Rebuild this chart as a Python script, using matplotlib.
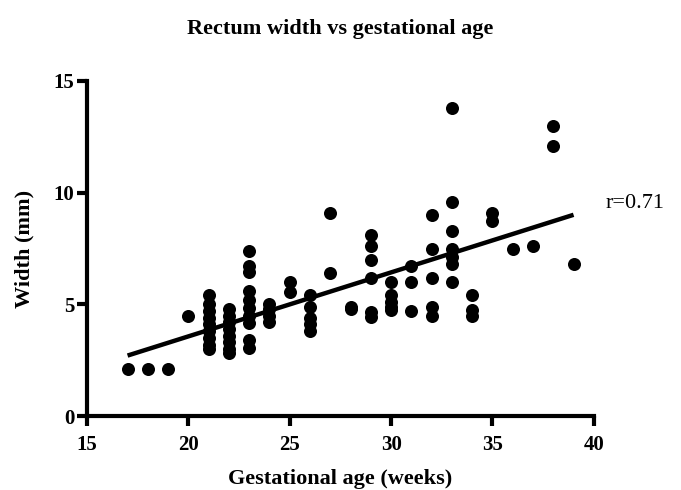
import numpy as np
import matplotlib
matplotlib.use("Agg")
import matplotlib.pyplot as plt

# gestational age (weeks) and rectum width (mm)
ages_17_20 = [17, 18, 19, 20]
width_17_20 = [2.1, 2.1, 2.1, 4.5]

width_21 = [5.4, 5.0, 4.7, 4.4, 4.1, 3.8, 3.5, 3.2, 3.0]
width_22 = [4.8, 4.5, 4.2, 3.9, 3.6, 3.3, 3.0, 2.8]
width_23 = [7.4, 6.7, 6.45, 5.6, 5.2, 4.85, 4.5, 4.15, 3.4, 3.05]
width_24 = [5.0, 4.8, 4.5, 4.2]
width_25 = [6.0, 5.55]
width_26 = [5.4, 4.9, 4.4, 4.1, 3.8]
width_27 = [9.1, 6.4]
width_28 = [4.9, 4.8]
width_29 = [8.1, 7.6, 7.0, 6.2, 4.65, 4.45]
width_30 = [6.0, 5.4, 5.1, 4.9, 4.75]
width_31 = [6.7, 6.0, 4.7]
width_32 = [9.0, 7.5, 6.2, 4.9, 4.5]
width_33 = [13.8, 9.6, 8.3, 7.5, 7.1, 6.8, 6.0]
width_34 = [5.4, 4.75, 4.5]
width_35_39 = {35: [9.1, 8.75], 36: [7.5], 37: [7.6], 38: [13.0, 12.1], 39: [6.8]}

x_ticks = [15, 20, 25, 30, 35, 40]
y_ticks = [0, 5, 10, 15]
r_label = "r=0.71"

columns = {21: width_21, 22: width_22, 23: width_23, 24: width_24, 25: width_25,
           26: width_26, 27: width_27, 28: width_28, 29: width_29, 30: width_30,
           31: width_31, 32: width_32, 33: width_33, 34: width_34}
columns.update(width_35_39)

ages = list(ages_17_20)
widths = list(width_17_20)
for age, vals in columns.items():
    ages += [age] * len(vals)
    widths += vals
ages = np.array(ages, dtype=float)
widths = np.array(widths)

plt.rcParams["font.family"] = ["Liberation Serif", "DejaVu Serif"]

fig = plt.figure(figsize=(6.81, 4.90), dpi=100)
ax = fig.add_axes([0.1278, 0.151, 0.7442, 0.6837])

ax.scatter(ages, widths, s=88, color="black", linewidths=0, zorder=3, clip_on=False)

# linear regression line across the data range
slope, intercept = np.polyfit(ages, widths, 1)
fit_x = np.array([ages.min(), ages.max()])
ax.plot(fit_x, slope * fit_x + intercept, color="black", lw=3.2,
        solid_capstyle="butt", zorder=2)

ax.set_xlim(15, 40)
ax.set_ylim(0, 15)
ax.set_xticks(x_ticks)
ax.set_yticks(y_ticks)

for side in ["top", "right"]:
    ax.spines[side].set_visible(False)
for side in ["left", "bottom"]:
    ax.spines[side].set_linewidth(3)
ax.tick_params(width=3, length=7, direction="out", labelsize=15)
ax.tick_params(axis="x", pad=7)
ax.tick_params(axis="y", pad=2)
for lab in ax.get_xticklabels() + ax.get_yticklabels():
    lab.set_fontweight("bold")

ax.set_xlabel("Gestational age (weeks)", fontsize=16, fontweight="bold", labelpad=10)
ax.set_ylabel("Width (mm)", fontsize=16, fontweight="bold", labelpad=14)
fig.text(0.5, 0.94, "Rectum width vs gestational age", ha="center", va="center",
         fontsize=16, fontweight="bold")
ax.text(40.6, 9.5, r_label, fontsize=16, va="center", ha="left")

fig.savefig("out.png", dpi=100)
